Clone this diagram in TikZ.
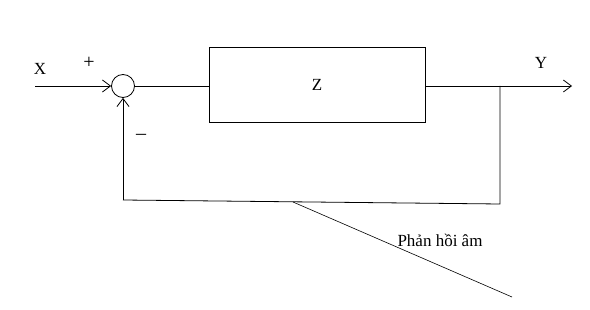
\documentclass[tikz,border=0pt]{standalone}
\usepackage{fontspec}
\setmainfont{Liberation Serif}
\usetikzlibrary{arrows.meta,positioning,calc}
\tikzset{
  >={Straight Barb[length=8pt,width=12pt]},
  every node/.style={font=\fontsize{17}{20}\selectfont,inner sep=0pt},
  wire/.style={line width=0.8pt},
  sig/.style={wire,->},
  sumnode/.style={draw,circle,line width=0.8pt,minimum size=23pt},
  plant/.style={draw,line width=0.8pt,minimum width=216pt,minimum height=75pt},
  sign/.style={font=\fontsize{20}{22}\selectfont},
}

\begin{document}
\begin{tikzpicture}[x=1pt,y=-1pt]
  \useasboundingbox (0,0) rectangle (590,310);
  % blocks
  \node[sumnode] (sum) at (123,86) {};
  \node[plant] (zbox) at (317,84.5) {Z};
  % wire ends
  \coordinate (xin) at (35,86);
  \coordinate (yout) at (572,86);
  \coordinate (tap) at (500,86);
  \coordinate (tapdn) at (500,204);
  \coordinate (fbcorner) at (123,200);
  \coordinate (lead) at (293,202);
  \coordinate (leadend) at (512,297);
  % labels
  \node (xlab) at (40,69) {X};
  \node (ylab) at (541,62.5) {Y};
  \node[sign] (plus) at (89,63) {+};
  \node[sign] (minus) at (141,137) {–};
  \node (fblab) at (440,240) {Phản hồi âm};
  % connectors
  \draw[sig] (xin) -- (sum.west);
  \draw[wire] (sum.east) -- (sum.east -| zbox.west);
  \draw[sig] (sum.east -| zbox.east) -- (yout);
  \draw[wire] (tap) -- (tapdn) -- (fbcorner);
  \draw[sig] (fbcorner) -- (sum.south);
  \draw[line width=0.6pt] (lead) -- (leadend);
\end{tikzpicture}
\end{document}
